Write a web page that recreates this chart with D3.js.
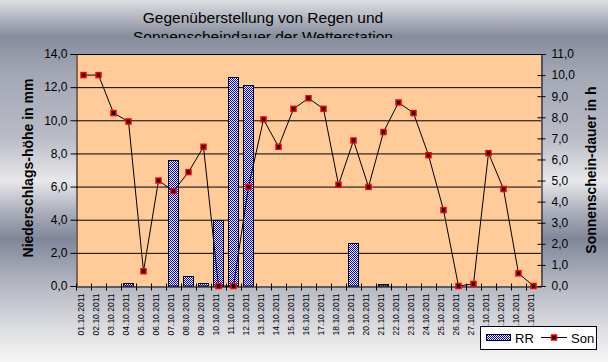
<!DOCTYPE html>
<html>
<head>
<meta charset="utf-8">
<script src="https://cdn.jsdelivr.net/npm/d3@7"></script>
<style>
  body { margin: 0; }
  svg { display: block; font-family: "Liberation Sans", Arial, sans-serif; }
</style>
</head>
<body>
<div id="chartArea"></div>
<script>
const svgWidth = 608;
const svgHeight = 362;

// data
const days = d3.range(1, 32).map(d => String(d).padStart(2, '0') + '.10.2011');
const rain = [0, 0, 0, 0.2, 0, 0, 7.6, 0.6, 0.2, 4.0, 12.6, 12.1, 0, 0, 0, 0,
  0, 0, 2.6, 0, 0.1, 0, 0, 0, 0, 0, 0, 0, 0, 0, 0];
const sun = [10.0, 10.0, 8.2, 7.8, 0.7, 5.0, 4.5, 5.4, 6.6, 0, 0, 4.7, 7.9, 6.6, 8.4, 8.9,
  8.4, 4.8, 6.9, 4.7, 7.3, 8.7, 8.2, 6.2, 3.6, 0, 0.1, 6.3, 4.6, 0.6, 0];
const rainTicks = [0, 2, 4, 6, 8, 10, 12, 14];
const sunTicks = d3.range(0, 12);

const plotLeft = 76;
const plotRight = 541;
const plotTop = 54;
const plotBottom = 286;

const canvas = d3.select('#chartArea')
  .append('svg')
  .attr('width', svgWidth)
  .attr('height', svgHeight);

const defs = canvas.append('defs');

// background gradient
const bg = defs.append('linearGradient')
  .attr('id', 'bgGrad')
  .attr('x1', 0).attr('y1', 0).attr('x2', 0).attr('y2', 1);
[[0, '#dedfe3'], [0.1, '#878c9d'], [0.2, '#a3a7b4'], [0.38, '#b9bcc6'], [0.5, '#e8e8eb'],
 [0.58, '#aeb2be'], [0.66, '#80869a'], [0.78, '#b2b5c0'], [0.9, '#dadbdf'], [1, '#f6f6f6']]
  .forEach(s => bg.append('stop').attr('offset', s[0]).attr('stop-color', s[1]));

// checker pattern for bars
const pat = defs.append('pattern')
  .attr('id', 'checker')
  .attr('width', 2).attr('height', 2)
  .attr('patternUnits', 'userSpaceOnUse');
pat.append('rect').attr('width', 2).attr('height', 2).attr('fill', '#ffffff');
pat.append('rect').attr('width', 1).attr('height', 1).attr('fill', '#0000ff');
pat.append('rect').attr('x', 1).attr('y', 1).attr('width', 1).attr('height', 1).attr('fill', '#0000ff');

defs.append('clipPath').attr('id', 'titleClip')
  .append('rect').attr('x', 0).attr('y', 0).attr('width', svgWidth).attr('height', 38);

canvas.append('rect')
  .attr('width', svgWidth)
  .attr('height', svgHeight)
  .attr('fill', 'url(#bgGrad)');

// title
const title = canvas.append('g').attr('clip-path', 'url(#titleClip)');
title.append('text')
  .attr('x', 263).attr('y', 23)
  .attr('text-anchor', 'middle')
  .attr('font-size', 15.5)
  .text('Gegenüberstellung von Regen und');
title.append('text')
  .attr('x', 263).attr('y', 42)
  .attr('text-anchor', 'middle')
  .attr('font-size', 15.5)
  .text('Sonnenscheindauer der Wetterstation');

// scales
const x = d3.scaleBand()
  .domain(days)
  .range([plotLeft, plotRight]);

const yRain = d3.scaleLinear()
  .domain([0, 14])
  .range([plotBottom, plotTop]);

const ySun = d3.scaleLinear()
  .domain([0, 11])
  .range([plotBottom, plotTop]);

canvas.append('rect')
  .attr('x', plotLeft)
  .attr('y', plotTop)
  .attr('width', plotRight - plotLeft)
  .attr('height', plotBottom - plotTop)
  .attr('fill', '#ffcc99');

// gridlines
canvas.append('g')
  .selectAll('line')
  .data(rainTicks.slice(1))
  .join('line')
  .attr('x1', plotLeft)
  .attr('x2', plotRight)
  .attr('y1', d => yRain(d) + 0.5)
  .attr('y2', d => yRain(d) + 0.5)
  .attr('stroke', '#000')
  .attr('stroke-width', 1);

// bars
const barWidth = 10;
canvas.append('g')
  .selectAll('rect')
  .data(rain.map((v, i) => ({ day: days[i], v })).filter(d => d.v > 0))
  .join('rect')
  .attr('x', d => Math.round(x(d.day) + (x.bandwidth() - barWidth) / 2) - 0.5)
  .attr('y', d => Math.round(yRain(d.v)) + 0.5)
  .attr('width', barWidth)
  .attr('height', d => plotBottom - Math.round(yRain(d.v)) - 0.5)
  .attr('fill', 'url(#checker)')
  .attr('stroke', '#000')
  .attr('stroke-width', 1);

// axes
const fmt = d => d.toFixed(1).replace('.', ',');

const leftAxis = canvas.append('g')
  .attr('transform', `translate(${plotLeft + 0.5},0)`)
  .call(d3.axisLeft(yRain).tickValues(rainTicks).tickSize(6).tickPadding(3).tickFormat(fmt));

const rightAxis = canvas.append('g')
  .attr('transform', `translate(${plotRight + 0.5},0)`)
  .call(d3.axisRight(ySun).tickValues(sunTicks).tickSize(4).tickPadding(6).tickFormat(fmt));
rightAxis.selectAll('.tick line').attr('x1', -4);

const bottomAxis = canvas.append('g')
  .attr('transform', `translate(0,${plotBottom + 0.5})`)
  .call(d3.axisBottom(x).tickSize(0).tickPadding(0));

[leftAxis, rightAxis, bottomAxis].forEach(a => {
  a.selectAll('.domain').attr('stroke', '#000');
  a.selectAll('.tick line').attr('stroke', '#000');
  a.selectAll('.tick text').attr('fill', '#000').attr('font-family', '"Liberation Sans", Arial, sans-serif');
});
leftAxis.selectAll('.tick text').attr('font-size', 12);
rightAxis.selectAll('.tick text').attr('font-size', 12);

bottomAxis.selectAll('.tick text')
  .attr('font-size', 8.5)
  .attr('transform', 'translate(-2,7) rotate(-90)')
  .attr('text-anchor', 'end')
  .attr('dy', '0.35em')
  .attr('y', 0)
  .attr('x', 0);

bottomAxis.append('g')
  .selectAll('line')
  .data(days)
  .join('line')
  .attr('x1', d => x(d) + 0.5)
  .attr('x2', d => x(d) + 0.5)
  .attr('y1', -3)
  .attr('y2', 4)
  .attr('stroke', '#000');

canvas.append('line')
  .attr('x1', plotLeft).attr('x2', plotRight)
  .attr('y1', plotTop + 0.5).attr('y2', plotTop + 0.5)
  .attr('stroke', '#000');

// sunshine line
const line = d3.line()
  .x((d, i) => x(days[i]) + x.bandwidth() / 2)
  .y(d => ySun(d));

canvas.append('path')
  .datum(sun)
  .attr('d', line)
  .attr('fill', 'none')
  .attr('stroke', '#000')
  .attr('stroke-width', 1);

const markerSize = 5;
canvas.append('g')
  .selectAll('rect')
  .data(sun)
  .join('rect')
  .attr('x', (d, i) => x(days[i]) + x.bandwidth() / 2 - markerSize / 2)
  .attr('y', d => ySun(d) - markerSize / 2)
  .attr('width', markerSize)
  .attr('height', markerSize)
  .attr('fill', '#000')
  .attr('stroke', '#ff0000')
  .attr('stroke-width', 1.5);

// axis titles
canvas.append('text')
  .attr('transform', 'translate(33,168) rotate(-90)')
  .attr('text-anchor', 'middle')
  .attr('font-size', 14)
  .attr('font-weight', 'bold')
  .text('Niederschlags-höhe in mm');

canvas.append('text')
  .attr('transform', 'translate(596,170) rotate(-90)')
  .attr('text-anchor', 'middle')
  .attr('font-size', 14)
  .attr('font-weight', 'bold')
  .text('Sonnenschein-dauer in h');

// legend
const legend = canvas.append('g');
legend.append('rect')
  .attr('x', 480.5).attr('y', 326.5)
  .attr('width', 116).attr('height', 23)
  .attr('fill', '#fff')
  .attr('stroke', '#000');
legend.append('rect')
  .attr('x', 486.5).attr('y', 334.5)
  .attr('width', 24).attr('height', 6)
  .attr('fill', 'url(#checker)')
  .attr('stroke', '#000');
legend.append('text')
  .attr('x', 515).attr('y', 343)
  .attr('font-size', 13)
  .text('RR');
legend.append('line')
  .attr('x1', 541).attr('x2', 567)
  .attr('y1', 337.5).attr('y2', 337.5)
  .attr('stroke', '#000');
legend.append('rect')
  .attr('x', 551.5).attr('y', 335)
  .attr('width', markerSize).attr('height', markerSize)
  .attr('fill', '#000')
  .attr('stroke', '#ff0000')
  .attr('stroke-width', 1.5);
legend.append('text')
  .attr('x', 571).attr('y', 343)
  .attr('font-size', 13)
  .text('Son');
</script>
</body>
</html>
